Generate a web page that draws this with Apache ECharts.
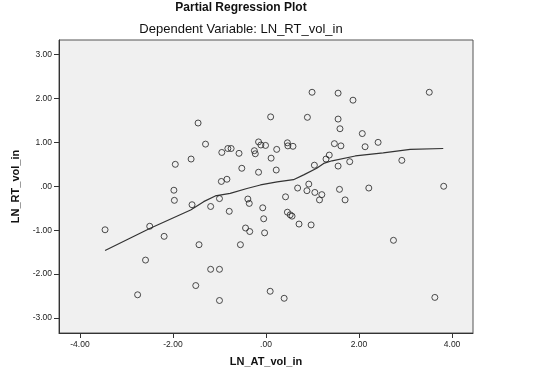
<!DOCTYPE html>
<html>
<head>
<meta charset="utf-8">
<script src="https://cdn.jsdelivr.net/npm/echarts@6/dist/echarts.min.js"></script>
<style>html,body{margin:0;padding:0;background:#fff;}#c{width:540px;height:380px;}</style>
</head>
<body>
<div id="c"></div>
<script>
var xTicks = [-4, -2, 0, 2, 4];
var yTicks = [-3, -2, -1, 0, 1, 2, 3];

var pointX = [-3.46,-2.50,-2.19,-2.59,-2.76,-1.95,-1.98,-1.97,-1.61,-1.59,-1.46,-1.44,-1.30,-1.19,-1.19,-1.00,-1.51,-1.00,-1.00,-0.96,-0.84,-0.95,-0.82,-0.75,-0.79,-0.58,-0.52,-0.55,-0.44,-0.35,-0.39,-0.36,-0.25,-0.23,-0.16,-0.11,-0.01,-0.16,-0.07,-0.05,-0.03,0.10,0.11,0.23,0.22,0.09,0.39,0.42,0.46,0.47,0.58,0.46,0.52,0.56,0.68,0.71,0.88,0.92,0.89,0.97,0.99,1.04,1.05,1.20,1.15,1.29,1.36,1.47,1.55,1.55,1.59,1.61,1.55,1.58,1.70,1.80,1.87,2.07,2.13,2.21,2.41,2.74,2.92,3.51,3.63,3.82];
var pointY = [-0.99,-0.91,-1.14,-1.68,-2.47,0.50,-0.09,-0.32,0.62,-0.42,1.44,-1.33,0.96,-0.46,-1.89,-1.89,-2.26,-2.60,-0.28,0.11,0.16,0.77,0.86,0.86,-0.57,0.75,0.41,-1.33,-0.95,-1.03,-0.29,-0.39,0.81,0.74,1.01,0.94,0.93,0.32,-0.49,-0.74,-1.06,1.58,0.64,0.84,0.37,-2.39,-2.55,-0.24,0.99,0.92,0.91,-0.59,-0.65,-0.68,-0.04,-0.86,-0.10,0.05,1.57,-0.88,2.14,0.48,-0.14,-0.19,-0.31,0.62,0.71,0.97,2.12,1.53,1.31,0.92,0.46,-0.07,-0.31,0.56,1.96,1.20,0.90,-0.04,1.00,-1.23,0.59,2.14,-2.53,0.00];

var fitX = [-3.46,-2.50,-1.62,-1.34,-1.09,-0.77,-0.41,-0.12,0.24,0.59,0.81,1.09,1.24,1.42,1.92,2.52,3.10,3.81];
var fitY = [-1.46,-0.96,-0.54,-0.35,-0.22,-0.16,-0.05,0.03,0.10,0.15,0.26,0.41,0.52,0.58,0.69,0.76,0.84,0.86];

var pts = pointX.map(function (x, i) { return [x, pointY[i]]; });
var fit = fitX.map(function (x, i) { return [x, fitY[i]]; });

function fmt(v) {
  if (Math.abs(v) < 1e-9) return '.00';
  return v.toFixed(2);
}

var chart = echarts.init(document.getElementById('c'), null, {renderer: 'canvas'});
chart.setOption({
  backgroundColor: '#ffffff',
  animation: false,
  textStyle: {fontFamily: 'Liberation Sans, Arial, sans-serif'},
  title: [
    {text: 'Partial Regression Plot', left: 241, top: 2, padding: 0, textAlign: 'center',
     textStyle: {fontSize: 12, fontWeight: 'bold', color: '#111', fontFamily: 'Liberation Sans'}},
    {text: 'Dependent Variable: LN_RT_vol_in', left: 241, top: 23, padding: 0, textAlign: 'center',
     textStyle: {fontSize: 13, fontWeight: 'normal', color: '#111', fontFamily: 'Liberation Sans'}}
  ],
  grid: {left: 59, right: 67, top: 40, bottom: 47, show: true,
         backgroundColor: '#f0f0f0', borderColor: '#555', borderWidth: 1},
  xAxis: {
    type: 'value', min: -4.45, max: 4.45,
    name: 'LN_AT_vol_in', nameLocation: 'middle', nameGap: 23,
    nameTextStyle: {fontSize: 11, fontWeight: 'bold', color: '#111', fontFamily: 'Liberation Sans'},
    axisLine: {show: true, onZero: false, lineStyle: {color: '#333', width: 1}},
    axisTick: {show: true, length: 5, customValues: xTicks, lineStyle: {color: '#333'}},
    axisLabel: {customValues: xTicks, formatter: fmt, fontSize: 8.5, color: '#222', margin: 7,
                fontFamily: 'Liberation Sans'},
    splitLine: {show: false}
  },
  yAxis: {
    type: 'value', min: -3.34, max: 3.33,
    name: 'LN_RT_vol_in', nameLocation: 'middle', nameGap: 30, nameRotate: 90,
    nameTextStyle: {fontSize: 11, fontWeight: 'bold', color: '#111', fontFamily: 'Liberation Sans'},
    axisLine: {show: true, onZero: false, lineStyle: {color: '#333', width: 1}},
    axisTick: {show: true, length: 5, customValues: yTicks, lineStyle: {color: '#333'}},
    axisLabel: {customValues: yTicks, formatter: fmt, fontSize: 8.5, color: '#222', margin: 7,
                fontFamily: 'Liberation Sans'},
    splitLine: {show: false}
  },
  series: [
    {type: 'scatter', data: pts, symbol: 'circle', symbolSize: 6,
     itemStyle: {color: 'rgba(0,0,0,0)', borderColor: '#222', borderWidth: 1}, z: 3},
    {type: 'line', data: fit, showSymbol: false, smooth: false,
     lineStyle: {color: '#333', width: 1.2}, z: 2}
  ]
});
</script>
</body>
</html>
